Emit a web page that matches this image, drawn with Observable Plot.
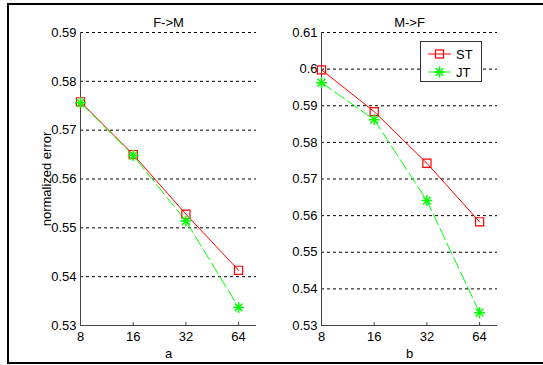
<!DOCTYPE html>
<html>
<head>
<meta charset="utf-8">
<script src="https://cdn.jsdelivr.net/npm/d3@7"></script>
<script src="https://cdn.jsdelivr.net/npm/@observablehq/plot@0.6"></script>
<style>
  html, body { margin: 0; padding: 0; background: #fff; }
  #wrap { position: relative; width: 543px; height: 365px; overflow: hidden; background: #fff; }
  #frame { position: absolute; left: 7px; top: 3px; width: 560px; height: 361px; border: 2px solid #000; box-sizing: border-box; }
  .panel { position: absolute; top: 0; }
  #legend { position: absolute; left: 420px; top: 41px; width: 62px; height: 41px; border: 1px solid #333; background: #fff; box-sizing: border-box; font-family: "Liberation Sans", Arial, sans-serif; font-size: 13px; }
  .lrow { position: absolute; left: 0; height: 16px; display: flex; align-items: center; }
  .lrow svg { display: block; }
  .lrow span { margin-left: 4px; }
</style>
</head>
<body>
<div id="wrap">
  <div id="frame"></div>
  <div id="p1" class="panel" style="left:0px"></div>
  <div id="p2" class="panel" style="left:270px"></div>
  <div id="legend"></div>
</div>
<script>
// ---- data ----
const xValues = [8, 16, 32, 64];
const seriesNames = ["ST", "JT"];
const fmST = [0.5758, 0.5650, 0.5528, 0.5413];
const fmJT = [0.5756, 0.5648, 0.5514, 0.5337];
const mfST = [0.5998, 0.5884, 0.5743, 0.5583];
const mfJT = [0.5963, 0.5862, 0.5641, 0.5335];
const panelTitles = ["F->M", "M->F"];
const panelXLabels = ["a", "b"];
const yLabel = "normalized error";
const yTicksA = [0.53, 0.54, 0.55, 0.56, 0.57, 0.58, 0.59];
const yTicksB = [0.53, 0.54, 0.55, 0.56, 0.57, 0.58, 0.59, 0.60, 0.61];

const RED = "#ff0000";
const GREEN = "#00ff00";
const FONT = "Liberation Sans, Arial, sans-serif";

function rows(st, jt) {
  const out = [];
  xValues.forEach((x, i) => {
    out.push({x, y: st[i], s: "ST"});
    out.push({x, y: jt[i], s: "JT"});
  });
  return out;
}

function panel(st, jt, yTicks, title, xlab, opts) {
  const data = rows(st, jt);
  const STd = data.filter(d => d.s === "ST");
  const JTd = data.filter(d => d.s === "JT");
  return Plot.plot({
    width: opts.width,
    height: 365,
    marginLeft: opts.marginLeft,
    marginRight: opts.marginRight,
    marginTop: 32,
    marginBottom: 40,
    style: {fontFamily: FONT, fontSize: "13px", color: "#000", background: "transparent"},
    x: {type: "log", base: 2, domain: [8, 81]},
    y: {domain: [yTicks[0], yTicks[yTicks.length - 1]]},
    marks: [
      Plot.gridY(yTicks, {stroke: "#000", strokeOpacity: 1, strokeDasharray: "3,3"}),
      Plot.axisY(yTicks, {tickSize: 0, tickPadding: 4, tickFormat: d => String(+d.toFixed(2)), label: null, fontSize: 13}),
      Plot.axisX(xValues, {tickSize: -3, tickPadding: 9, tickFormat: d => String(d), label: null, fontSize: 13, stroke: "#444"}),
      Plot.ruleX([8], {stroke: "#444"}),
      Plot.ruleY([yTicks[0]], {stroke: "#444"}),
      Plot.line(STd, {x: "x", y: "y", stroke: RED, strokeWidth: 1}),
      Plot.line(JTd, {x: "x", y: "y", stroke: GREEN, strokeWidth: 1, strokeDasharray: "12,4"}),
      Plot.dot(STd, {x: "x", y: "y", symbol: "square", r: 4.6, stroke: RED, fill: "none", strokeWidth: 1.2}),
      Plot.dot(JTd, {x: "x", y: "y", symbol: "plus", r: 3.6, stroke: GREEN, strokeWidth: 1.5}),
      Plot.dot(JTd, {x: "x", y: "y", symbol: "times", r: 3.6, stroke: GREEN, strokeWidth: 1.5}),
      Plot.text([title], {frameAnchor: "top", dy: -15, fontSize: 13}),
      Plot.text([xlab], {frameAnchor: "bottom", dy: 32, fontSize: 13}),
      ...(opts.ylabel ? [Plot.text([opts.ylabel], {frameAnchor: "left", textAnchor: "middle", dx: -34, rotate: -90, fontSize: 13})] : [])
    ]
  });
}

document.getElementById("p1").appendChild(
  panel(fmST, fmJT, yTicksA, panelTitles[0], panelXLabels[0], {width: 270, marginLeft: 80, marginRight: 14, ylabel: yLabel})
);
document.getElementById("p2").appendChild(
  panel(mfST, mfJT, yTicksB, panelTitles[1], panelXLabels[1], {width: 273, marginLeft: 51, marginRight: 46})
);

// legend
const leg = document.getElementById("legend");
seriesNames.forEach((name, i) => {
  const row = document.createElement("div");
  row.className = "lrow";
  row.style.top = (4 + i * 18) + "px";
  row.style.left = "6px";
  const svg = d3.create("svg").attr("width", 25).attr("height", 16);
  const color = name === "ST" ? RED : GREEN;
  svg.append("line").attr("x1", 1).attr("x2", 24).attr("y1", 8).attr("y2", 8)
    .attr("stroke", color).attr("stroke-width", 1);
  if (name === "ST") {
    svg.append("rect").attr("x", 8.5).attr("y", 4).attr("width", 8).attr("height", 8)
      .attr("fill", "none").attr("stroke", color).attr("stroke-width", 1.2);
  } else {
    svg.append("path").attr("d", d3.symbol(d3.symbolPlus, 40)()).attr("transform", "translate(12.5,8)")
      .attr("fill", "none").attr("stroke", color).attr("stroke-width", 1.5);
    svg.append("path").attr("d", d3.symbol(d3.symbolTimes, 40)()).attr("transform", "translate(12.5,8)")
      .attr("fill", "none").attr("stroke", color).attr("stroke-width", 1.5);
  }
  row.appendChild(svg.node());
  const sp = document.createElement("span");
  sp.textContent = name;
  row.appendChild(sp);
  leg.appendChild(row);
});
</script>
</body>
</html>
